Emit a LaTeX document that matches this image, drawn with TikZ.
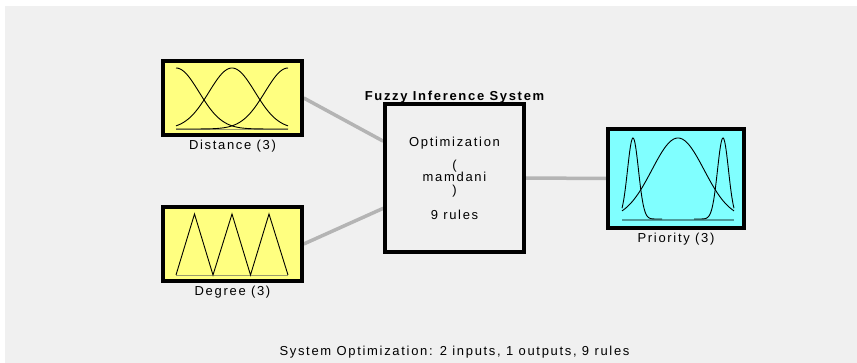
\documentclass[tikz,border=0pt]{standalone}
\usepackage{fontspec}
\setmainfont{Liberation Sans}[LetterSpace=13]
\usetikzlibrary{positioning,calc,backgrounds}

\definecolor{bggray}{HTML}{F0F0F0}
\definecolor{inyellow}{HTML}{FFFF80}
\definecolor{outcyan}{HTML}{80FFFF}
\definecolor{wiregray}{HTML}{B4B4B4}
\definecolor{inbase}{HTML}{9C9C6C}
\definecolor{outbase}{HTML}{4C9C9C}

\begin{document}
\begin{tikzpicture}[
  x=1pt, y=-1pt,
  font=\fontsize{13}{12.5}\selectfont,
  mfbox/.style={draw=black, line width=3.5pt, inner sep=0pt,
                minimum width=139pt, minimum height=74pt},
  fisbox/.style={draw=black, line width=3.5pt, fill=bggray, align=center,
                 minimum width=139pt, minimum height=148pt},
  wire/.style={draw=wiregray, line width=3.5pt},
  curve/.style={black, line width=0.9pt},
  lbl/.style={anchor=base, inner sep=0pt}
]
\useasboundingbox (0,0) rectangle (857,363);

% boxes
\node[mfbox, fill=inyellow] (dist) at (232.5,98) {};
\node[mfbox, fill=inyellow] (deg) at (232.5,244) {};
\node[fisbox] (fis) at (454.5,178) {Optimization\\[10.5pt](\\mamdani\\)\\[12.5pt]9 rules};
\node[mfbox, fill=outcyan, minimum width=136pt, minimum height=99pt] (prio) at (676,178.5) {};

% labels
\node[lbl] (distlbl) at ($(dist.south)+(0,12.5)$) {Distance (3)};
\node[lbl] (deglbl) at ($(deg.south)+(0,12.5)$) {Degree (3)};
\node[lbl] (priolbl) at ($(prio.south)+(0,12.5)$) {Priority (3)};
\node[lbl, font=\fontsize{13}{12.5}\selectfont\bfseries] (fistitle) at ($(fis.north)+(0,-2)$) {Fuzzy Inference System};
\node[lbl] (summary) at (454.5,355.5) {System Optimization: 2 inputs, 1 outputs, 9 rules};

% background and wires
\begin{scope}[on background layer]
  \fill[white] (0,0) rectangle (857,363);
  \fill[bggray] (5,6) rectangle (857,363);
  \draw[wire] (dist.east) -- ($(fis.north west)!0.257!(fis.south west)$);
  \draw[wire] (deg.east) -- ($(fis.north west)!0.70!(fis.south west)$);
  \draw[wire] (fis.east) -- (prio.west);
\end{scope}

% membership functions
\begin{scope}[shift={($(dist.center)+(-56.5,31)$)}]
  \draw[inbase, line width=1.5pt] (0,0.5) -- (112,0.5);
  \foreach \c in {0,56,112}
    \draw[curve] plot[domain=0:112, samples=60, smooth] (\x,{-61*exp(-((\x-\c)^2)/1058)});
\end{scope}
\begin{scope}[shift={($(deg.center)+(-56.5,31)$)}]
  \draw[inbase, line width=1.5pt] (0,0.5) -- (112,0.5);
  \draw[curve] (0,0) -- (18.5,-61) -- (37,0) -- (56,-61) -- (74.5,0) -- (93,-61) -- (112,0);
\end{scope}
\begin{scope}[shift={($(prio.center)+(-54,40.5)$)}]
  \draw[outbase, line width=1.5pt] (0,1) -- (112,1);
  \draw[curve] plot[domain=0:40, samples=60, smooth] (\x,{-81*exp(-((\x-11)^2)/60)});
  \draw[curve] plot[domain=72:112, samples=60, smooth] (\x,{-81*exp(-((\x-101)^2)/60)});
  \draw[curve] plot[domain=0:112, samples=60, smooth] (\x,{-81*exp(-((\x-56)^2)/1362)});
\end{scope}
\end{tikzpicture}
\end{document}
